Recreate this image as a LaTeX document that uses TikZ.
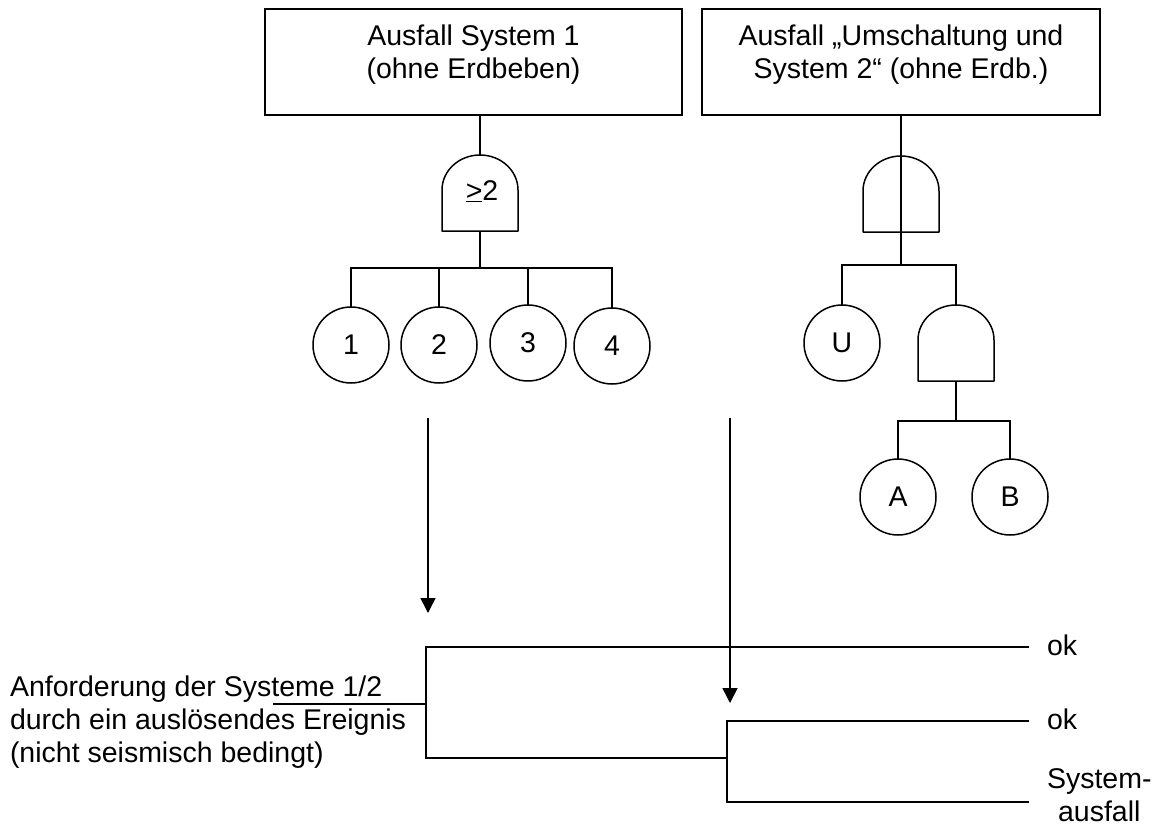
\documentclass[tikz,border=0pt]{standalone}
\usepackage{fontspec}
\setmainfont{Liberation Sans}
\usetikzlibrary{arrows.meta}

% outline of a fault-tree gate: straight sides, rounded top
\newcommand{\gateoutline}[1]{%
  \draw[ln,line join=round] (#1.south west) -- ([yshift=41pt]#1.south west)
    arc[start angle=180,end angle=0,x radius=38pt,y radius=35pt]
    -- (#1.south east) -- cycle;}

\begin{document}
\begin{tikzpicture}[x=1pt,y=-1pt,
  every node/.style={font=\fontsize{28.5pt}{33pt}\selectfont, inner sep=0pt, outer sep=0pt},
  ln/.style={line width=1.5pt},
  eventbox/.style={draw, ln, minimum height=106pt},
  basic/.style={circle, draw, ln, minimum size=76pt},
  gatebox/.style={minimum width=76pt, minimum height=76pt},
  arr/.style={ln, -{Triangle[width=15pt,length=15pt]}},
  outcome/.style={anchor=west, align=center, inner xsep=18pt},
]
\path[fill=white] (0,0) rectangle (1162,828);
\useasboundingbox (0,0) rectangle (1162,828);

% ---- top events
\node[eventbox, minimum width=417pt] (box1) at (473.5,62) {};
\node[eventbox, minimum width=398pt] (box2) at (901,62) {};
\node[anchor=base, align=center] (box1t) at (473.5,78) {Ausfall System 1\\(ohne Erdbeben)};
\node[anchor=base, align=center] (box2t) at (901,78) {Ausfall „Umschaltung und\\System 2“ (ohne Erdb.)};

% ---- fault tree of system 1 (2-out-of-4)
\node[gatebox] (g1) at (480,193) {};
\gateoutline{g1}
\node[anchor=base] (g1t) at (482,200) {\underline{>}2};
\node[basic] (c1) at (351,345) {1};
\node[basic] (c2) at (439,345) {2};
\node[basic] (c3) at (528,343) {3};
\node[basic] (c4) at (612,346) {4};
\coordinate (bar1) at (480,268);
\draw[ln] (g1.north) -- (g1.north |- box1.south);
\draw[ln] (g1.south) -- (bar1);
\draw[ln] (c1.north) -- (c1.north |- bar1) -- (c4.north |- bar1) -- (c4.north);
\draw[ln] (c2.north) -- (c2.north |- bar1);
\draw[ln] (c3.north) -- (c3.north |- bar1);

% ---- fault tree of switch-over and system 2
\node[gatebox] (g2) at (901,194) {};
\gateoutline{g2}
\node[basic] (u) at (842,343) {U};
\node[gatebox] (g3) at (956,343) {};
\gateoutline{g3}
\node[basic] (a) at (898,497) {A};
\node[basic] (b) at (1010,497) {B};
\coordinate (bar2) at (901,265);
\coordinate (bar3) at (956,421);
\draw[ln] (box2.south) -- (bar2);
\draw[ln] (u.north) -- (u.north |- bar2) -- (g3.north |- bar2) -- (g3.north);
\draw[ln] (g3.south) -- (bar3);
\draw[ln] (a.north) -- (a.north |- bar3) -- (b.north |- bar3) -- (b.north);

% ---- arrows into the event tree
\coordinate (a1top) at (428,418);
\coordinate (a1tip) at (428,613);
\coordinate (a2top) at (730,418);
\coordinate (a2tip) at (730,703);
\draw[arr] (a1top) -- (a1tip);
\draw[arr] (a2top) -- (a2tip);

% ---- event tree
\node[anchor=base west, align=left] (init) at (10,762)
  {Anforderung der Systeme 1/2\\durch ein auslösendes Ereignis\\(nicht seismisch bedingt)};
\node[outcome] (ok1) at (1029,645) {ok};
\node[outcome] (ok2) at (1029,719) {ok};
\node[outcome] (sa) at (1029,795) {System-\\ausfall};
\coordinate (e0) at (273,704);
\coordinate (j1) at (426,704);
\coordinate (t1) at (426,647);
\coordinate (b1) at (426,758);
\coordinate (t2) at (727,721);
\coordinate (b2) at (727,802);
\draw[ln] (e0) -- (j1);
\draw[ln] (t1 -| ok1.west) -- (t1) -- (b1) -- (b1 -| t2);
\draw[ln] (t2 -| ok2.west) -- (t2) -- (b2) -- (b2 -| sa.west);
\end{tikzpicture}
\end{document}
